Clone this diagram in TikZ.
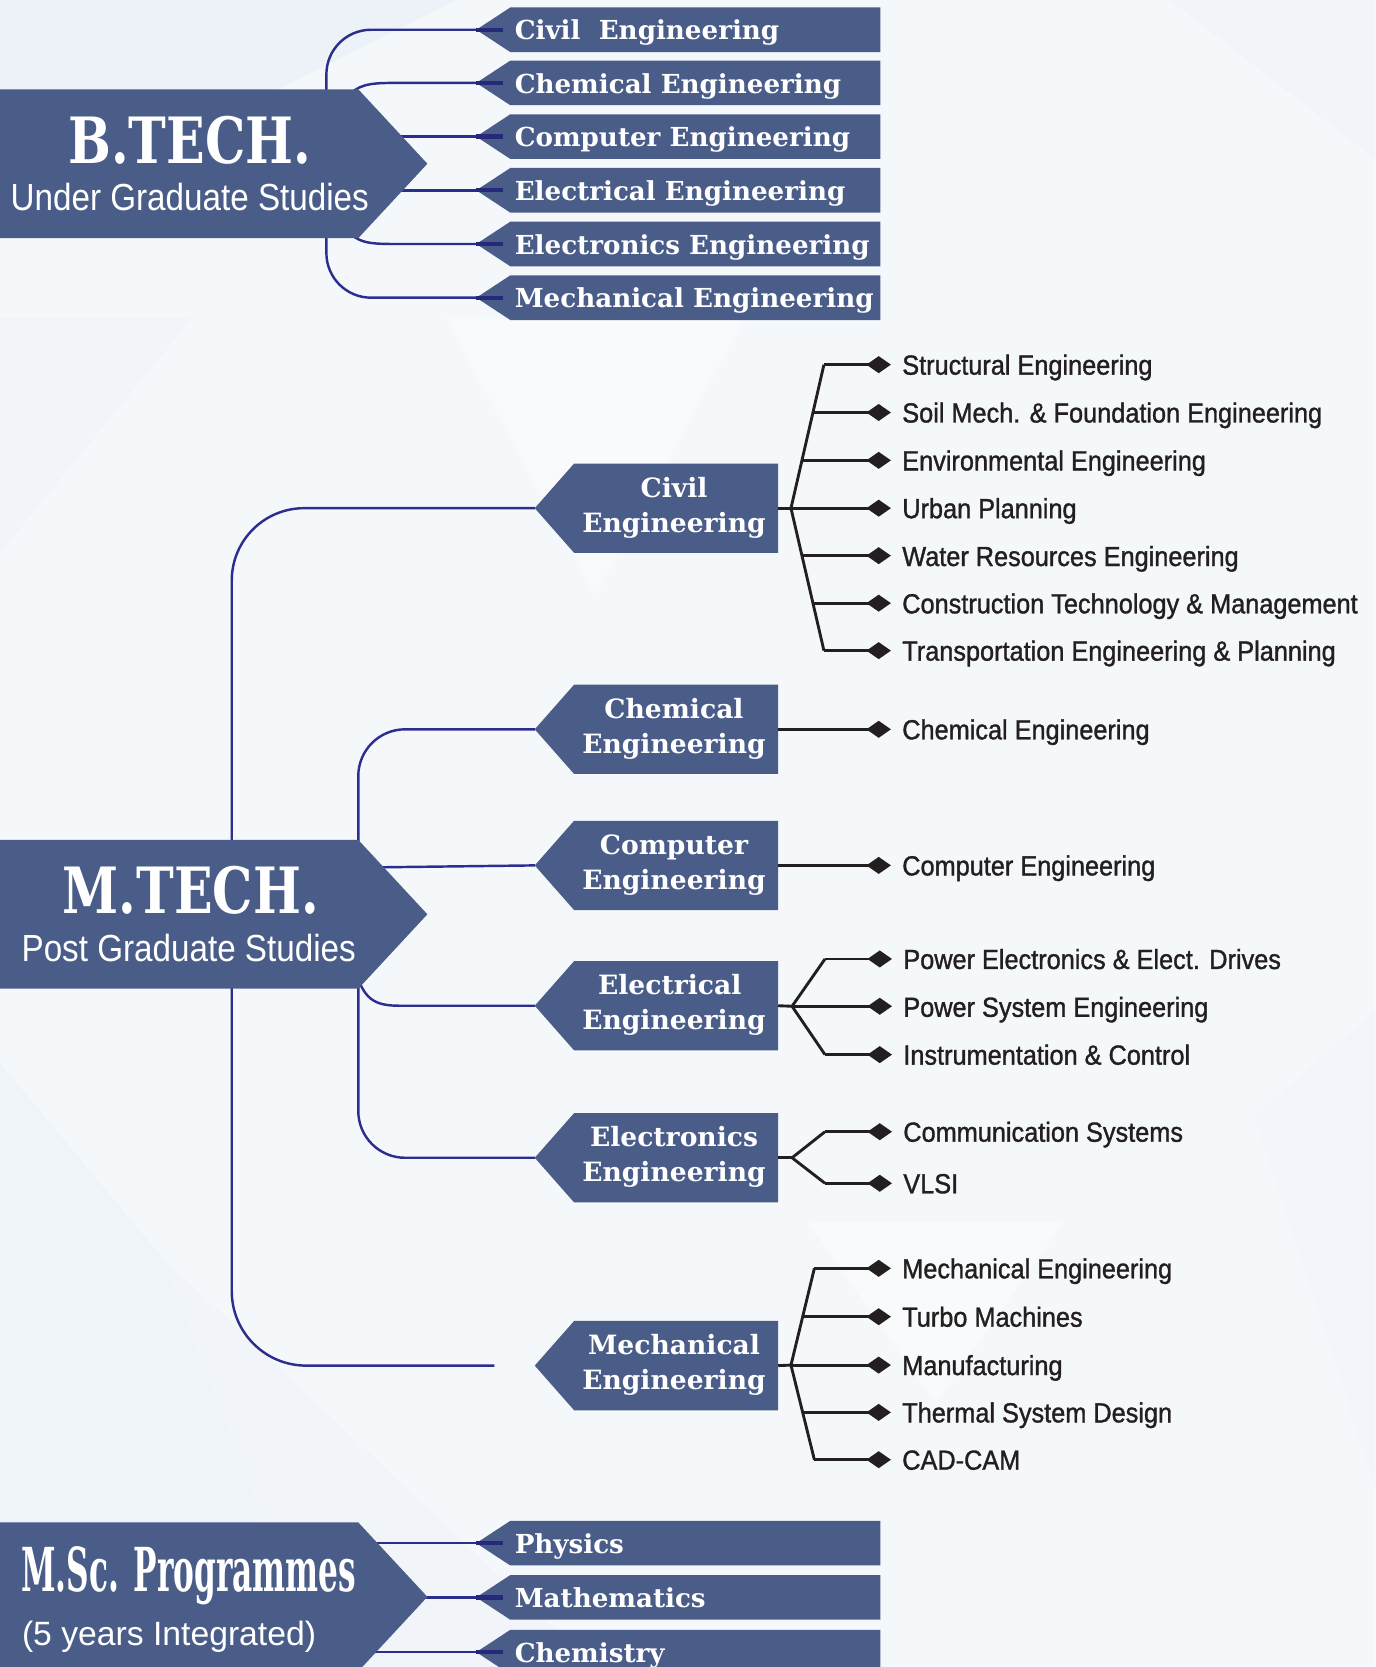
\documentclass[tikz,border=0pt]{standalone}
\usepackage{fontspec}
\usetikzlibrary{arrows.meta,calc}
\newfontfamily\slabfont{DejaVu Serif}
\newfontfamily\titlefont[FakeStretch=0.795]{DejaVu Serif}
\newfontfamily\mscfont[FakeStretch=0.515]{DejaVu Serif}
\newfontfamily\subfont[FakeStretch=0.88]{Liberation Sans}
\newfontfamily\itemfont[FakeStretch=0.915,FakeBold=1.2]{Liberation Sans}
\newfontfamily\plainsans{Liberation Sans}
\definecolor{boxblue}{HTML}{4A5D89}
\definecolor{linkblue}{HTML}{2C2E8E}
\definecolor{stubblue}{HTML}{26287A}
\definecolor{ink}{HTML}{231F20}
\definecolor{bgbase}{HTML}{F5F8FB}
\definecolor{bgtint}{HTML}{E6EFF6}
\newcommand\tagshape[6]{% name, tip x, corner x, right x, centre y, half height
  \fill[boxblue] (#2,#5) -- (#3,{#5-#6}) -- (#4,{#5-#6}) -- (#4,{#5+#6}) -- (#3,{#5+#6}) -- cycle;
  \coordinate (#1) at (#2,#5);
  \coordinate (#1-r) at (#4,#5);}
\newcommand\leafitem[4]{% name, tip x, y, text
  \coordinate (#1) at (#2,#3);
  \node[itemtext] (#1-t) at ({#2+10.5},{#3+9.4}) {#4};}
\newcommand\branchline[4]{% hub, spine end, fraction, leaf
  \coordinate (tmpb) at ($(#1)!#3!(#2)$);
  \draw[tree] (tmpb) -- (tmpb -| #4);}
\tikzset{
  link/.style={draw=linkblue, line width=2.3pt},
  stub/.style={draw=stubblue, line width=4pt},
  spine/.style={draw=ink, line width=2.7pt},
  tree/.style={draw=ink, line width=2.7pt, -{Diamond[length=23pt,width=16pt]}},
  boxlabel/.style={text=white, font=\slabfont\bfseries\fontsize{24.6}{25}\selectfont, inner sep=0pt, anchor=base west},
  midlabel/.style={text=white, font=\slabfont\bfseries\fontsize{25}{25}\selectfont, inner sep=0pt, anchor=base},
  itemtext/.style={text=ink, font=\itemfont\fontsize{26}{26}\selectfont, inner sep=0pt, anchor=base west},
  bigtitle/.style={text=white, font=\titlefont\bfseries\fontsize{60}{60}\selectfont, inner sep=0pt, anchor=base},
  subtitle/.style={text=white, font=\subfont\fontsize{35.5}{36}\selectfont, inner sep=0pt, anchor=base},
}
\begin{document}
\begin{tikzpicture}[x=1pt,y=-1pt]
\useasboundingbox (0,0) rectangle (1294,1568);
\clip (0,0) rectangle (1294,1568);
% background
\fill[bgbase] (0,0) rectangle (1294,1568);
\fill[bgtint, opacity=0.6] (0,0) -- (430,0) -- (250,90) -- (0,90) -- cycle;
\fill[bgtint, opacity=0.25] (0,300) -- (180,300) -- (0,520) -- cycle;
\fill[bgtint, opacity=0.4] (0,1000) -- (150,1180) -- (300,1568) -- (0,1568) -- cycle;
\fill[bgtint, opacity=0.25] (150,1180) -- (560,1568) -- (300,1568) -- cycle;
\fill[bgtint, opacity=0.2] (1180,1050) -- (1294,950) -- (1294,1400) -- cycle;
\fill[bgtint, opacity=0.25] (1100,0) -- (1294,0) -- (1294,150) -- cycle;
\fill[white, opacity=0.35] (420,300) -- (700,300) -- (560,560) -- cycle;
\fill[white, opacity=0.3] (760,1150) -- (1000,1150) -- (880,1320) -- cycle;

% ---------------- small tags (B.TECH) ----------------
\tagshape{bt1}{448}{480}{828}{28}{21}
\tagshape{bt2}{448}{480}{828}{78}{21}
\tagshape{bt3}{448}{480}{828}{128.5}{21}
\tagshape{bt4}{448}{480}{828}{179}{21}
\tagshape{bt5}{448}{480}{828}{229.5}{21}
\tagshape{bt6}{448}{480}{828}{280}{21}
% ---------------- middle tags (M.TECH) ----------------
\tagshape{mt1}{503}{540}{732}{478}{42}
\tagshape{mt2}{503}{540}{732}{686}{42}
\tagshape{mt3}{503}{540}{732}{814}{42}
\tagshape{mt4}{503}{540}{732}{946}{42}
\tagshape{mt5}{503}{540}{732}{1089}{42}
\tagshape{mt6}{503}{540}{732}{1284.5}{42}
% ---------------- small tags (M.Sc.) ----------------
\tagshape{ms1}{448}{480}{828}{1451.5}{21}
\tagshape{ms2}{448}{480}{828}{1502.5}{21}
\tagshape{ms3}{448}{480}{828}{1554}{21}

% ---------------- blue connectors ----------------
\coordinate (btA) at (307,110);
\coordinate (btB) at (307,200);
\draw[link, rounded corners=42pt] (btA) |- (bt1);
\draw[link] (326,92) .. controls (336,80) and (346,78) .. (370,78) -- (bt2);
\draw[link] (360,128.5) -- (bt3);
\draw[link] (360,179) -- (bt4);
\draw[link] (326,216) .. controls (336,228) and (346,229.5) .. (370,229.5) -- (bt5);
\draw[link, rounded corners=42pt] (btB) |- (bt6);
\foreach \n in {bt1,bt2,bt3,bt4,bt5,bt6,ms1,ms2,ms3}
  \draw[stub] (\n) -- ++(25,0);

\coordinate (mtA) at (218,800);
\coordinate (mtB) at (337,800);
\coordinate (mtC) at (337,920);
\coordinate (mtD) at (218,920);
\coordinate (mechend) at (465,1284.5);
\draw[link, rounded corners=68pt] (mtA) |- (mt1);
\draw[link, rounded corners=44pt] (mtB) |- (mt2);
\draw[link] (340,816) -- (mt3);
\draw[link] (334,912) .. controls (342,940) and (352,946) .. (376,946) -- (mt4);
\draw[link, rounded corners=44pt] (mtC) |- (mt5);
\draw[link, rounded corners=70pt] (mtD) |- (mechend);

\draw[link] (345,1451.5) -- (ms1);
\draw[link] (390,1502.5) -- (ms2);
\draw[link] (345,1554) -- (ms3);

% ---------------- big chevrons ----------------
\fill[boxblue] (-5,84) -- (337,84) -- (402,154) -- (337,224) -- (-5,224) -- cycle;
\fill[boxblue] (-5,790) -- (337,790) -- (402,860) -- (337,930) -- (-5,930) -- cycle;
\fill[boxblue] (-5,1432) -- (337,1432) -- (402,1502) -- (337,1572) -- (-5,1572) -- cycle;

\node[bigtitle] (btt) at (178.5,153.5) {B.TECH.};
\node[subtitle] (bts) at (178.5,198.4) {Under Graduate Studies};
\node[bigtitle] (mtt) at (179.5,859) {M.TECH.};
\node[subtitle] (mts) at (177.5,904) {Post Graduate Studies};
\node[text=white, font=\mscfont\bfseries\fontsize{57}{57}\selectfont, inner sep=0pt, anchor=base] (mst) at (177.6,1497) {M.Sc. Programmes};
\node[text=white, font=\plainsans\fontsize{31.7}{32}\selectfont, inner sep=0pt, anchor=base west] (mss) at (20.5,1548) {(5 years Integrated)};

% ---------------- tag labels ----------------
\node[boxlabel] (l1) at (484,{28+9.5}) {Civil\ \ Engineering};
\node[boxlabel] (l2) at (484,{78+9.5}) {Chemical Engineering};
\node[boxlabel] (l3) at (484,{128.5+9.5}) {Computer Engineering};
\node[boxlabel] (l4) at (484,{179+9.5}) {Electrical Engineering};
\node[boxlabel] (l5) at (484,{229.5+9.5}) {Electronics Engineering};
\node[boxlabel] (l6) at (484,{280+9.5}) {Mechanical Engineering};

\node[boxlabel] (p1) at (484,{1451.5+9.5}) {Physics};
\node[boxlabel] (p2) at (484,{1502.5+9.5}) {Mathematics};
\node[boxlabel] (p3) at (484,{1554+9.5}) {Chemistry};

\foreach \n/\a/\yy/\xx in {mt1/Civil/478/634, mt2/Chemical/686/634, mt3/Computer/814/634, mt4/Electrical/946/630, mt5/Electronics/1089/634, mt6/Mechanical/1284.5/634}{
  \node[midlabel] (\n-a) at (\xx,{\yy-10.5}) {\a};
  \node[midlabel] (\n-b) at (634,{\yy+22.5}) {Engineering};
}

% ---------------- leaves ----------------
\leafitem{c1}{838}{343}{Structural Engineering}
\leafitem{c2}{838}{388}{Soil Mech. \& Foundation Engineering}
\leafitem{c3}{838}{433}{Environmental Engineering}
\leafitem{c4}{838}{478}{Urban Planning}
\leafitem{c5}{838}{523}{Water Resources Engineering}
\leafitem{c6}{838}{567.5}{Construction Technology \& Management}
\leafitem{c7}{838}{612}{Transportation Engineering \& Planning}
\leafitem{h1}{838}{686}{Chemical Engineering}
\leafitem{k1}{838}{814}{Computer Engineering}
\leafitem{e1}{839}{902}{Power Electronics \& Elect. Drives}
\leafitem{e2}{839}{947}{Power System Engineering}
\leafitem{e3}{839}{992}{Instrumentation \& Control}
\leafitem{x1}{839}{1064.5}{Communication Systems}
\leafitem{x2}{839}{1113}{VLSI}
\leafitem{m1}{838}{1193}{Mechanical Engineering}
\leafitem{m2}{838}{1238.5}{Turbo Machines}
\leafitem{m3}{838}{1284}{Manufacturing}
\leafitem{m4}{838}{1328.5}{Thermal System Design}
\leafitem{m5}{838}{1373}{CAD-CAM}

% ---------------- black trees ----------------
% civil
\coordinate (cvh) at (744,478);
\coordinate (cvt) at (775,343);
\coordinate (cvb) at (775,612);
\draw[spine] (mt1-r) -- (cvh);
\draw[spine] (cvt) -- (cvh) -- (cvb);
\draw[tree] (cvt) -- (c1);
\branchline{cvh}{cvt}{0.6667}{c2}
\branchline{cvh}{cvt}{0.3333}{c3}
\draw[tree] (cvh) -- (c4);
\branchline{cvh}{cvb}{0.3333}{c5}
\branchline{cvh}{cvb}{0.6667}{c6}
\draw[tree] (cvb) -- (c7);
% chemical, computer
\draw[tree] (mt2-r) -- (h1);
\draw[tree] (mt3-r) -- (k1);
% electrical
\coordinate (elh) at (745,946.5);
\coordinate (elt) at (776,902);
\coordinate (elb) at (776,992);
\draw[spine] (mt4-r) -- (elh);
\draw[spine] (elt) -- (elh) -- (elb);
\draw[tree] (elt) -- (e1);
\draw[tree] (elh) -- (elh -| e2);
\draw[tree] (elb) -- (e3);
% electronics
\coordinate (exh) at (745,1089);
\coordinate (ext) at (776,1064.5);
\coordinate (exb) at (776,1113);
\draw[spine] (mt5-r) -- (exh);
\draw[spine] (ext) -- (exh) -- (exb);
\draw[tree] (ext) -- (x1);
\draw[tree] (exb) -- (x2);
% mechanical
\coordinate (meh) at (744,1284);
\coordinate (met) at (766,1193);
\coordinate (meb) at (766,1373);
\draw[spine] (mt6-r) -- (meh);
\draw[spine] (met) -- (meh) -- (meb);
\draw[tree] (met) -- (m1);
\branchline{meh}{met}{0.5}{m2}
\draw[tree] (meh) -- (m3);
\branchline{meh}{meb}{0.5}{m4}
\draw[tree] (meb) -- (m5);
\end{tikzpicture}
\end{document}
